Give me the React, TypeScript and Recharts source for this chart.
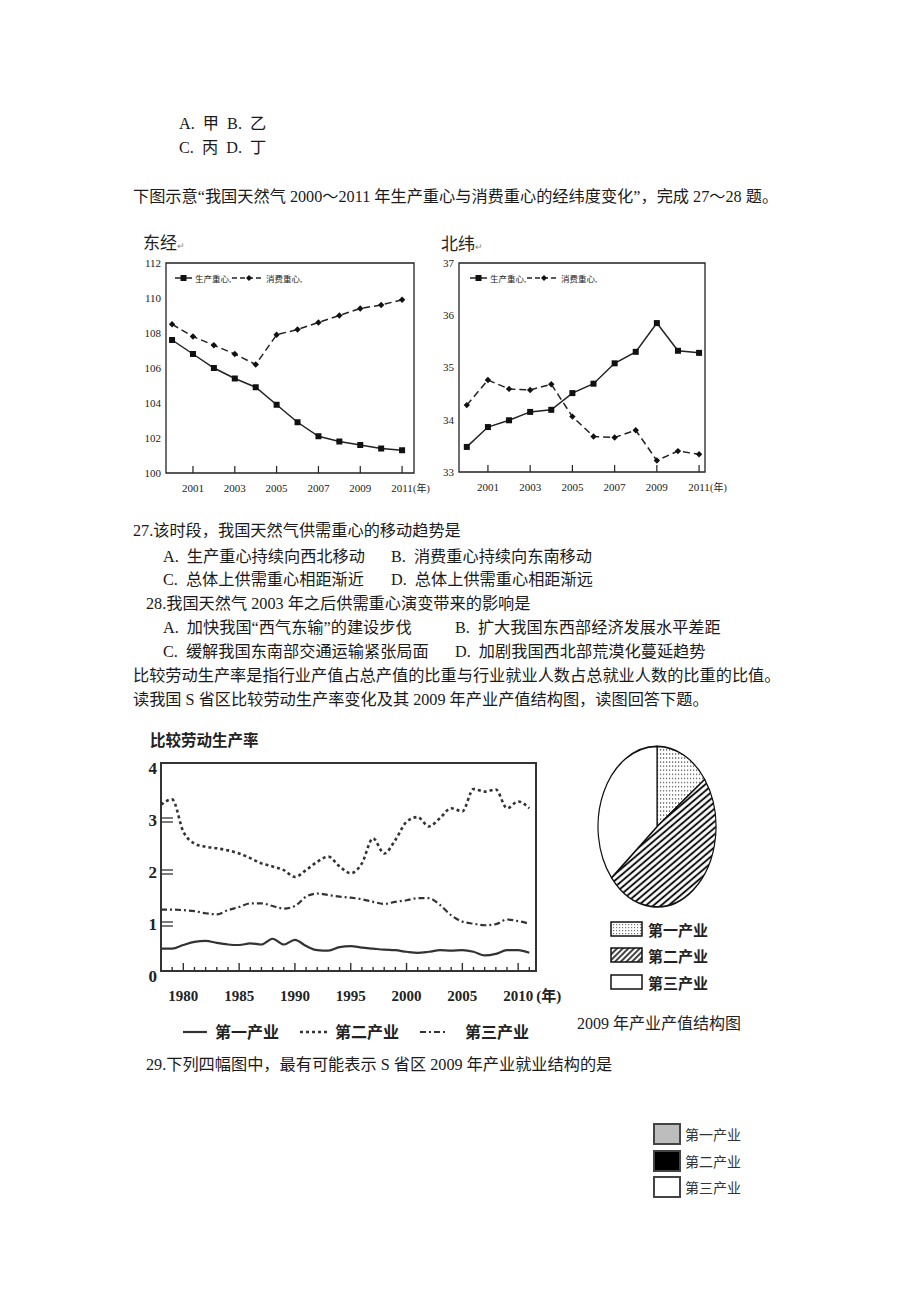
import React from 'react';
import { LineChart, Line, XAxis, YAxis, ReferenceArea, Legend, PieChart, Pie, Cell } from 'recharts';

// 天然气生产重心 / 消费重心 2000-2011
const gasYears = [2000, 2001, 2002, 2003, 2004, 2005, 2006, 2007, 2008, 2009, 2010, 2011];
const lonProduction = [107.6, 106.8, 106.0, 105.4, 104.9, 103.9, 102.9, 102.1, 101.8, 101.6, 101.4, 101.3];
const lonConsumption = [108.5, 107.8, 107.3, 106.8, 106.2, 107.9, 108.2, 108.6, 109.0, 109.4, 109.6, 109.9];
const latProduction = [33.48, 33.86, 33.99, 34.15, 34.19, 34.51, 34.69, 35.08, 35.3, 35.85, 35.32, 35.28];
const latConsumption = [34.28, 34.76, 34.59, 34.57, 34.68, 34.06, 33.68, 33.66, 33.8, 33.22, 33.4, 33.34];
const gasTickYears = [2001, 2003, 2005, 2007, 2009, 2011];
const lonTicks = [100, 102, 104, 106, 108, 110, 112];
const latTicks = [33, 34, 35, 36, 37];
const gasSeries = ['生产重心', '消费重心'];

// 比较劳动生产率 1978-2011
const rateYears = [
  1978, 1979, 1980, 1981, 1982, 1983, 1984, 1985, 1986, 1987, 1988, 1989, 1990, 1991, 1992, 1993, 1994,
  1995, 1996, 1997, 1998, 1999, 2000, 2001, 2002, 2003, 2004, 2005, 2006, 2007, 2008, 2009, 2010, 2011,
];
const primaryRate = [
  0.43, 0.43, 0.5, 0.56, 0.58, 0.54, 0.51, 0.5, 0.53, 0.51, 0.62, 0.51, 0.6, 0.48, 0.4, 0.39, 0.46,
  0.48, 0.45, 0.43, 0.41, 0.4, 0.37, 0.35, 0.37, 0.4, 0.39, 0.4, 0.37, 0.3, 0.33, 0.4, 0.4, 0.35,
];
const secondaryRate = [
  3.2, 3.3, 2.68, 2.45, 2.39, 2.36, 2.32, 2.26, 2.17, 2.07, 2.01, 1.94, 1.81, 1.94, 2.1, 2.2, 2.01,
  1.88, 2.07, 2.55, 2.26, 2.52, 2.87, 2.96, 2.78, 2.94, 3.13, 3.07, 3.5, 3.45, 3.49, 3.13, 3.26, 3.13,
];
const tertiaryRate = [
  1.18, 1.18, 1.17, 1.15, 1.11, 1.09, 1.17, 1.23, 1.3, 1.3, 1.25, 1.2, 1.25, 1.43, 1.49, 1.46, 1.43,
  1.41, 1.38, 1.33, 1.29, 1.33, 1.36, 1.4, 1.4, 1.27, 1.07, 0.95, 0.91, 0.88, 0.9, 0.99, 0.96, 0.91,
];
const rateTicks = [0, 1, 2, 3, 4];
const industries = ['第一产业', '第二产业', '第三产业'];
const outputShare2009 = [15, 49, 36];

const ink = '#222';
const serif = '"Liberation Serif", "Noto Sans CJK SC", serif';
const cjk = '"Liberation Serif", "Noto Sans CJK SC", sans-serif';

const squareDot = (p: any) => (
  <rect key={`sq-${p.index}`} x={p.cx - 3} y={p.cy - 3} width={6} height={6} fill="#111" />
);
const diamondDot = (p: any) => (
  <path
    key={`dm-${p.index}`}
    d={`M${p.cx},${p.cy - 3.2}L${p.cx + 3.2},${p.cy}L${p.cx},${p.cy + 3.2}L${p.cx - 3.2},${p.cy}Z`}
    fill="#111"
  />
);

const GasYearTick = (props: any) => {
  const { x, y, payload } = props;
  return (
    <g>
      <line x1={x} y1={y} x2={x} y2={y - 7} stroke={ink} strokeWidth={1.2} />
      <text x={x} y={y + 19} textAnchor="middle" fontSize={11} fontFamily={serif} fill={ink}>
        {payload.value}
      </text>
      {payload.value === 2011 && (
        <text x={x + 11} y={y + 19} fontSize={10} fontFamily={cjk} fill={ink}>
          (年)
        </text>
      )}
    </g>
  );
};

const GasLegend = () => (
  <svg width={135} height={12} style={{ display: 'block' }}>
    <line x1={0} y1={6} x2={17} y2={6} stroke={ink} strokeWidth={1.5} />
    <rect x={5.5} y={3} width={6} height={6} fill="#111" />
    <text x={20} y={9.5} fontSize={8.5} fill={ink} fontFamily={cjk}>{gasSeries[0]},</text>
    <line x1={57} y1={6} x2={88} y2={6} stroke={ink} strokeWidth={1.5} strokeDasharray="5 3" />
    <path d="M74,3 L77,6 L74,9 L71,6Z" fill="#111" />
    <text x={91} y={9.5} fontSize={8.5} fill={ink} fontFamily={cjk}>{gasSeries[1]},</text>
  </svg>
);

type GasProps = {
  left: number;
  top: number;
  production: number[];
  consumption: number[];
  xDomain: [number, number];
  yDomain: [number, number];
  yTicks: number[];
  margin: { top: number; right: number; bottom: number; left: number };
};

const GasChart = ({ left, top, production, consumption, xDomain, yDomain, yTicks, margin }: GasProps) => {
  const data = gasYears.map((year, i) => ({ year, production: production[i], consumption: consumption[i] }));
  return (
    <div style={{ position: 'absolute', left, top, width: 330, height: 270 }}>
      <LineChart width={330} height={270} data={data} margin={margin}>
        <XAxis
          dataKey="year"
          type="number"
          domain={xDomain}
          ticks={gasTickYears}
          interval={0}
          height={30}
          axisLine={false}
          tickLine={false}
          tickSize={0}
          tickMargin={0}
          tick={(p: any) => <GasYearTick {...p} />}
        />
        <YAxis
          type="number"
          domain={yDomain}
          ticks={yTicks}
          interval={0}
          width={40}
          axisLine={false}
          tickLine={false}
          tickSize={0}
          tickMargin={5}
          tick={{ fontSize: 11, fill: ink, fontFamily: serif }}
        />
        <ReferenceArea
          x1={xDomain[0]}
          x2={xDomain[1]}
          y1={yDomain[0]}
          y2={yDomain[1]}
          fill="none"
          stroke={ink}
          strokeWidth={1.3}
          ifOverflow="visible"
        />
        <Legend
          layout="vertical"
          align="center"
          verticalAlign="middle"
          wrapperStyle={{ left: 65, top: 32, width: 140 }}
          content={() => <GasLegend />}
        />
        <Line
          type="linear"
          dataKey="production"
          stroke={ink}
          strokeWidth={1.5}
          dot={squareDot}
          isAnimationActive={false}
        />
        <Line
          type="linear"
          dataKey="consumption"
          stroke={ink}
          strokeWidth={1.5}
          strokeDasharray="7 4"
          dot={diamondDot}
          isAnimationActive={false}
        />
      </LineChart>
    </div>
  );
};

const RateYearTick = (props: any) => {
  const { x, y, payload } = props;
  const major = payload.value % 5 === 0;
  return (
    <g>
      <line x1={x} y1={y} x2={x} y2={y - (major ? 8 : 4)} stroke="#333" strokeWidth={1.4} />
      {major && (
        <text x={x} y={y + 30} textAnchor="middle" fontSize={15} fontWeight="bold" fontFamily={serif} fill={ink}>
          {payload.value}
        </text>
      )}
      {payload.value === 2010 && (
        <text x={x + 18} y={y + 30} fontSize={15} fontWeight="bold" fontFamily={cjk} fill={ink}>
          (年)
        </text>
      )}
    </g>
  );
};

const RateValueTick = (props: any) => {
  const { x, y, payload } = props;
  const mid = payload.value > 0 && payload.value < 4;
  return (
    <g>
      <text x={x - 4} y={y + 11} textAnchor="end" fontSize={17} fontWeight="bold" fontFamily={serif} fill={ink}>
        {payload.value}
      </text>
      {mid && (
        <g stroke="#333" strokeWidth={1.3}>
          <line x1={x} y1={y + 3} x2={x + 12} y2={y + 3} />
          <line x1={x} y1={y + 7} x2={x + 12} y2={y + 7} />
        </g>
      )}
    </g>
  );
};

const RateLegend = () => (
  <svg width={350} height={20} style={{ display: 'block' }}>
    <line x1={0} y1={10} x2={24} y2={10} stroke="#333" strokeWidth={2.2} />
    <text x={32} y={16} fontSize={16} fontWeight="bold" fill={ink} fontFamily={cjk}>{industries[0]}</text>
    <line x1={117} y1={10} x2={145} y2={10} stroke="#333" strokeWidth={2.4} strokeDasharray="3 3" />
    <text x={152} y={16} fontSize={16} fontWeight="bold" fill={ink} fontFamily={cjk}>{industries[1]}</text>
    <line x1={237} y1={10} x2={262} y2={10} stroke="#333" strokeWidth={2} strokeDasharray="6 3 2 3" />
    <text x={282} y={16} fontSize={16} fontWeight="bold" fill={ink} fontFamily={cjk}>{industries[2]}</text>
  </svg>
);

const RateChart = () => {
  const data = rateYears.map((year, i) => ({
    year,
    primary: primaryRate[i],
    secondary: secondaryRate[i],
    tertiary: tertiaryRate[i],
  }));
  const xDomain: [number, number] = [1978, 2011.6];
  return (
    <div style={{ position: 'absolute', left: 130, top: 750, width: 440, height: 290 }}>
      <LineChart width={440} height={290} data={data} margin={{ top: 13, right: 34, bottom: 34, left: 6 }}>
        <XAxis
          dataKey="year"
          type="number"
          domain={xDomain}
          ticks={rateYears}
          interval={0}
          height={35}
          axisLine={false}
          tickLine={false}
          tickSize={0}
          tickMargin={0}
          tick={(p: any) => <RateYearTick {...p} />}
        />
        <YAxis
          type="number"
          domain={[0, 4]}
          ticks={rateTicks}
          interval={0}
          width={25}
          axisLine={false}
          tickLine={false}
          tickSize={0}
          tickMargin={0}
          tick={(p: any) => <RateValueTick {...p} />}
        />
        <ReferenceArea x1={xDomain[0]} x2={xDomain[1]} y1={0} y2={4} fill="none" stroke="#333" strokeWidth={2} ifOverflow="visible" />
        <Legend
          layout="vertical"
          align="center"
          verticalAlign="middle"
          wrapperStyle={{ left: 53, top: 272, width: 350 }}
          content={() => <RateLegend />}
        />
        <Line type="monotone" dataKey="primary" stroke="#333" strokeWidth={2.2} dot={false} isAnimationActive={false} />
        <Line type="monotone" dataKey="secondary" stroke="#333" strokeWidth={2.6} strokeDasharray="3 3" dot={false} isAnimationActive={false} />
        <Line type="monotone" dataKey="tertiary" stroke="#333" strokeWidth={2.2} strokeDasharray="6 3 2 3" dot={false} isAnimationActive={false} />
      </LineChart>
    </div>
  );
};

const pieFills = ['url(#pieDots)', 'url(#pieHatch)', '#fff'];

const OutputPie = () => {
  const data = industries.map((name, i) => ({ name, value: outputShare2009[i] }));
  return (
    <div
      style={{
        position: 'absolute',
        left: 597,
        top: 745,
        width: 120,
        height: 120,
        transform: 'scaleY(1.36)',
        transformOrigin: 'top left',
      }}
    >
      <PieChart width={120} height={120} margin={{ top: 0, right: 0, bottom: 0, left: 0 }}>
        <defs>
          <pattern id="pieDots" width="3" height="3" patternUnits="userSpaceOnUse">
            <rect width="3" height="3" fill="#fff" />
            <rect width="1.2" height="1.2" fill="#777" />
          </pattern>
          <pattern id="pieHatch" width="4" height="4" patternUnits="userSpaceOnUse" patternTransform="rotate(-32)">
            <rect width="4" height="4" fill="#fff" />
            <line x1="0" y1="2" x2="4" y2="2" stroke="#111" strokeWidth="1.6" />
          </pattern>
          <pattern id="boxHatch" width="4" height="4" patternUnits="userSpaceOnUse" patternTransform="rotate(-45)">
            <rect width="4" height="4" fill="#fff" />
            <line x1="0" y1="2" x2="4" y2="2" stroke="#111" strokeWidth="1.6" />
          </pattern>
        </defs>
        <Pie
          data={data}
          dataKey="value"
          cx={60}
          cy={60}
          outerRadius={59}
          startAngle={90}
          endAngle={-270}
          stroke="#111"
          strokeWidth={1.2}
          isAnimationActive={false}
        >
          {data.map((d, i) => (
            <Cell key={d.name} fill={pieFills[i]} />
          ))}
        </Pie>
      </PieChart>
    </div>
  );
};

const PieKey = () => {
  const boxFills = ['url(#pieDots)', 'url(#boxHatch)', '#fff'];
  return (
    <div style={{ position: 'absolute', left: 610, top: 916 }}>
      {industries.map((name, i) => (
        <div key={name} style={{ display: 'flex', alignItems: 'center', height: 26.5 }}>
          <svg width={34} height={17} style={{ display: 'block' }}>
            <rect x={1} y={1} width={31} height={14} fill={boxFills[i]} stroke="#111" strokeWidth={1.5} />
          </svg>
          <span style={{ marginLeft: 4, fontSize: 15, fontWeight: 'bold', fontFamily: cjk, color: ink }}>{name}</span>
        </div>
      ))}
    </div>
  );
};

const EmploymentKey = () => {
  const fills = ['#bdbdbd', '#000', '#fff'];
  return (
    <div style={{ position: 'absolute', left: 653, top: 1121 }}>
      {industries.map((name, i) => (
        <div key={name} style={{ display: 'flex', alignItems: 'center', height: 26.5 }}>
          <svg width={29} height={22} style={{ display: 'block' }}>
            <rect x={1} y={1} width={26} height={20} fill={fills[i]} stroke="#444" strokeWidth={2} />
          </svg>
          <span style={{ marginLeft: 3, fontSize: 14, fontFamily: cjk, color: '#333' }}>{name}</span>
        </div>
      ))}
    </div>
  );
};

const T = ({ x, y, children, size = 16.2 }: { x: number; y: number; children: React.ReactNode; size?: number }) => (
  <div
    style={{
      position: 'absolute',
      left: x,
      top: y - 10,
      lineHeight: '20px',
      fontSize: size,
      fontFamily: cjk,
      color: '#1a1a1a',
      whiteSpace: 'pre',
    }}
  >
    {children}
  </div>
);

const App: React.FC = () => {
  return (
    <div
      style={{
        position: 'absolute',
        left: 0,
        top: 0,
        width: 920,
        height: 1302,
        background: '#fff',
        overflow: 'hidden',
      }}
    >
      <T x={179} y={124}>A.  甲  B.  乙</T>
      <T x={179} y={148}>C.  丙  D.  丁</T>
      <T x={133} y={197}>下图示意“我国天然气 2000～2011 年生产重心与消费重心的经纬度变化”，完成 27～28 题。</T>

      <div style={{ position: 'absolute', left: 143, top: 229, fontSize: 17, fontFamily: cjk, color: ink }}>
        东经<span style={{ fontSize: 9, color: '#888' }}>↵</span>
      </div>
      <div style={{ position: 'absolute', left: 441, top: 230, fontSize: 17, fontFamily: cjk, color: ink }}>
        北纬<span style={{ fontSize: 9, color: '#888' }}>↵</span>
      </div>
      <GasChart
        left={110}
        top={240}
        production={lonProduction}
        consumption={lonConsumption}
        xDomain={[1999.71, 2011.57]}
        yDomain={[100, 112]}
        yTicks={lonTicks}
        margin={{ top: 23, right: 26, bottom: 7, left: 16 }}
      />
      <GasChart
        left={405}
        top={240}
        production={latProduction}
        consumption={latConsumption}
        xDomain={[1999.63, 2011.28]}
        yDomain={[33, 37]}
        yTicks={latTicks}
        margin={{ top: 23, right: 30, bottom: 8, left: 14 }}
      />

      <T x={133} y={531}>27.该时段，我国天然气供需重心的移动趋势是</T>
      <T x={163} y={557}>A.  生产重心持续向西北移动</T>
      <T x={391} y={557}>B.  消费重心持续向东南移动</T>
      <T x={163} y={580}>C.  总体上供需重心相距渐近</T>
      <T x={391} y={580}>D.  总体上供需重心相距渐远</T>
      <T x={146} y={604}>28.我国天然气 2003 年之后供需重心演变带来的影响是</T>
      <T x={163} y={628}>A.  加快我国“西气东输”的建设步伐</T>
      <T x={455} y={628}>B.  扩大我国东西部经济发展水平差距</T>
      <T x={163} y={652}>C.  缓解我国东南部交通运输紧张局面</T>
      <T x={455} y={652}>D.  加剧我国西北部荒漠化蔓延趋势</T>
      <T x={133} y={676}>比较劳动生产率是指行业产值占总产值的比重与行业就业人数占总就业人数的比重的比值。</T>
      <T x={133} y={700}>读我国 S 省区比较劳动生产率变化及其 2009 年产业产值结构图，读图回答下题。</T>

      <div style={{ position: 'absolute', left: 150, top: 728, fontSize: 15.5, fontWeight: 'bold', fontFamily: cjk, color: ink }}>
        比较劳动生产率
      </div>
      <RateChart />
      <OutputPie />
      <PieKey />
      <div style={{ position: 'absolute', left: 577, top: 1010, fontSize: 16, fontFamily: cjk, color: ink, whiteSpace: 'pre' }}>
        2009 年产业产值结构图
      </div>

      <T x={146} y={1065}>29.下列四幅图中，最有可能表示 S 省区 2009 年产业就业结构的是</T>
      <EmploymentKey />
    </div>
  );
};

export default App;
